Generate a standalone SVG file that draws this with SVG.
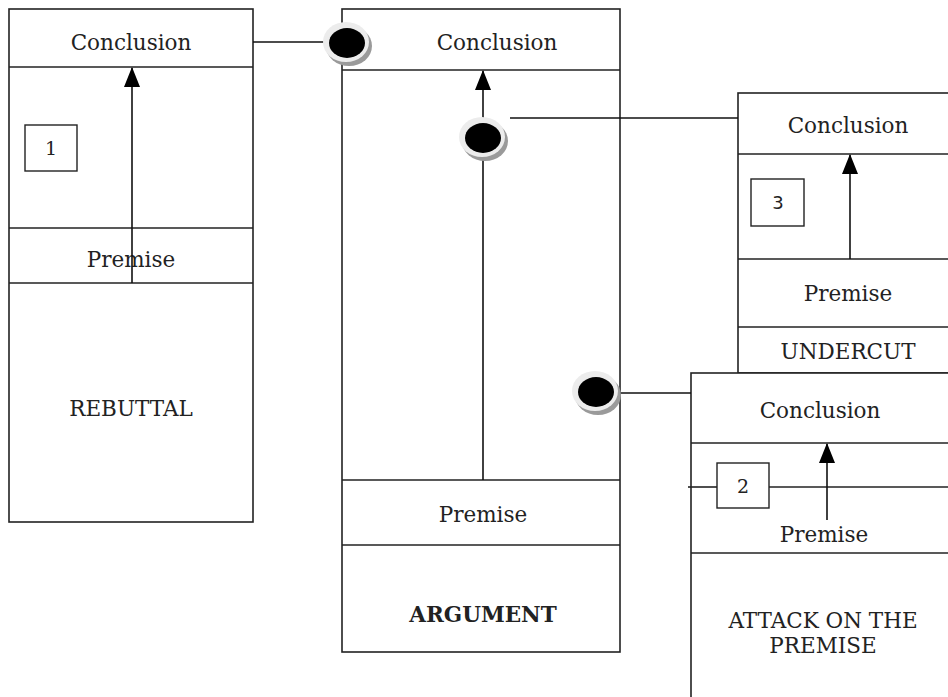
<svg xmlns="http://www.w3.org/2000/svg" width="948" height="697" viewBox="0 0 948 697">
<style>
.box{fill:#fff;stroke:#222;stroke-width:1.6}
.sep{stroke:#222;stroke-width:1.6}
.arr{stroke:#111;stroke-width:1.6;fill:none}
.con{stroke:#111;stroke-width:1.6;fill:none}
.t{font-family:"DejaVu Serif","Liberation Serif",serif;font-size:21.5px;fill:#222;text-anchor:middle}
.n{font-family:"DejaVu Serif","Liberation Serif",serif;font-size:19px;fill:#222;text-anchor:middle}
.ns{font-family:"DejaVu Sans","Liberation Sans",sans-serif;font-size:18px;fill:#222;text-anchor:middle}
.nb{fill:#fff;stroke:#222;stroke-width:1.4}
</style>
<defs>
<marker id="ah" viewBox="0 0 20 16" refX="19" refY="8" markerWidth="20" markerHeight="16" markerUnits="userSpaceOnUse" orient="auto">
<path d="M0,0 L20,8 L0,16 Z" fill="#000"/>
</marker>
<g id="dot">
<ellipse cx="2" cy="3" rx="23" ry="20" fill="#9a9a9a"/>
<ellipse cx="-1" cy="-1" rx="23" ry="20" fill="#ececec"/>
<ellipse cx="0" cy="0" rx="18" ry="15" fill="#000"/>
</g>
</defs>

<g id="rebuttal">
<rect class="box" x="9" y="9" width="244" height="513"/>
<line class="sep" x1="9" y1="67" x2="253" y2="67"/>
<line class="sep" x1="9" y1="228" x2="253" y2="228"/>
<line class="sep" x1="9" y1="283" x2="253" y2="283"/>
<text class="t" x="131" y="50">Conclusion</text>
<text class="t" x="131" y="267">Premise</text>
<text class="t" x="131" y="416">REBUTTAL</text>
<rect class="nb" x="25" y="125" width="52" height="46"/>
<text class="n" x="51" y="155">1</text>
<line class="arr" x1="132" y1="283" x2="132" y2="68" marker-end="url(#ah)"/>
</g>

<g id="argument">
<rect class="box" x="342" y="9" width="278" height="643"/>
<line class="sep" x1="342" y1="70" x2="620" y2="70"/>
<line class="sep" x1="342" y1="480" x2="620" y2="480"/>
<line class="sep" x1="342" y1="545" x2="620" y2="545"/>
<text class="t" x="497" y="50">Conclusion</text>
<text class="t" x="483" y="522">Premise</text>
<text class="t" x="483" y="622" font-weight="bold">ARGUMENT</text>
<line class="arr" x1="483" y1="480" x2="483" y2="71" marker-end="url(#ah)"/>
</g>

<g id="undercut">
<rect class="box" x="738" y="93" width="220" height="280"/>
<line class="sep" x1="738" y1="154" x2="948" y2="154"/>
<line class="sep" x1="738" y1="259" x2="948" y2="259"/>
<line class="sep" x1="738" y1="327" x2="948" y2="327"/>
<text class="t" x="848" y="133">Conclusion</text>
<text class="t" x="848" y="301">Premise</text>
<text class="t" x="848" y="359">UNDERCUT</text>
<rect class="nb" x="751" y="179" width="53" height="47" stroke-width="1.1"/>
<text class="ns" x="778" y="209">3</text>
<line class="arr" x1="850" y1="259" x2="850" y2="155" marker-end="url(#ah)"/>
</g>

<g id="attack">
<rect class="box" x="691" y="373" width="270" height="340"/>
<line class="sep" x1="691" y1="443" x2="948" y2="443"/>
<line class="sep" x1="691" y1="553" x2="948" y2="553"/>
<text class="t" x="820" y="418">Conclusion</text>
<line class="sep" x1="688" y1="487" x2="717" y2="487" stroke-width="1.2"/>
<line class="sep" x1="769" y1="487" x2="948" y2="487" stroke-width="1.2"/>
<rect class="nb" x="717" y="463" width="52" height="45"/>
<text class="n" x="743" y="493">2</text>
<line class="arr" x1="827" y1="520" x2="827" y2="444" marker-end="url(#ah)"/>
<text class="t" x="824" y="542">Premise</text>
<text class="t" x="823" y="628">ATTACK ON THE</text>
<text class="t" x="823" y="653">PREMISE</text>
</g>

<g id="connectors">
<line class="con" x1="253" y1="42" x2="325" y2="42"/>
<use href="#dot" x="347" y="43"/>
<line class="con" x1="510" y1="118" x2="738" y2="118"/>
<use href="#dot" x="483" y="138"/>
<line class="con" x1="612" y1="393" x2="691" y2="393"/>
<use href="#dot" x="596" y="392"/>
</g>
</svg>
